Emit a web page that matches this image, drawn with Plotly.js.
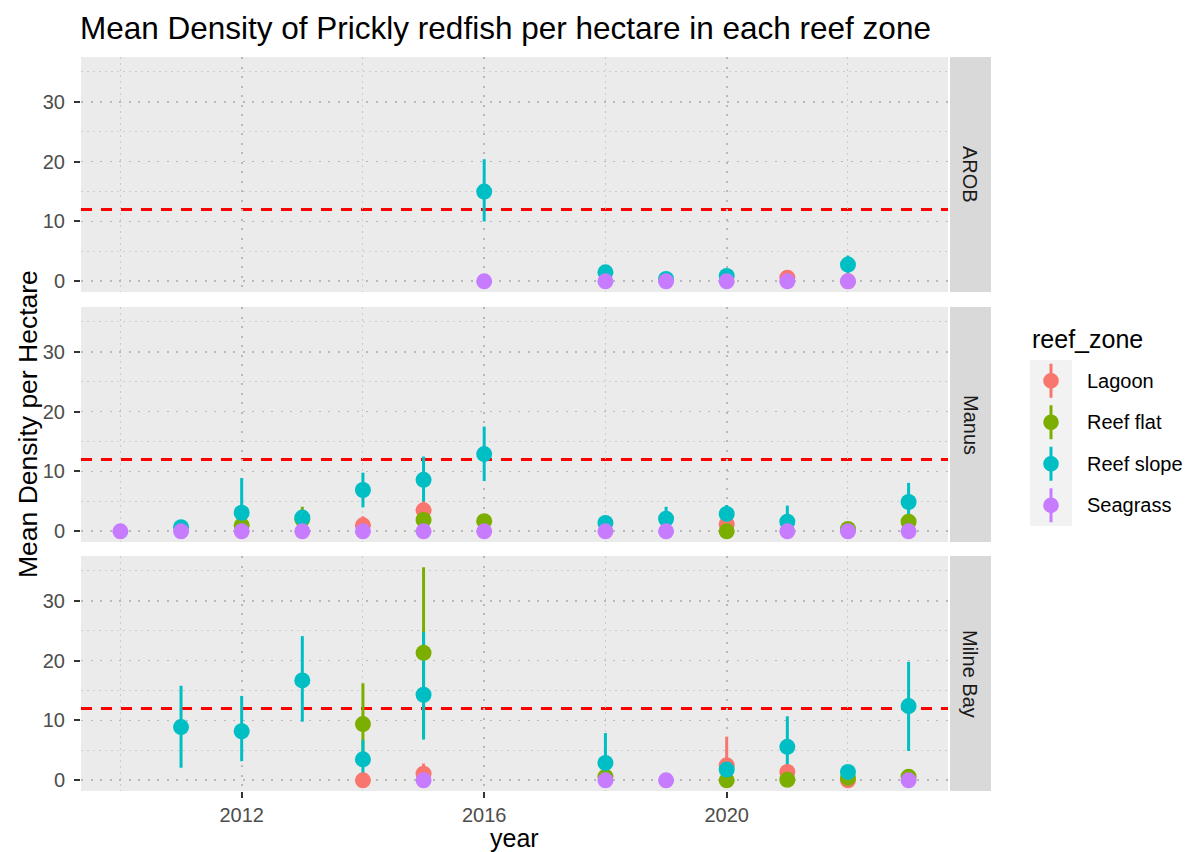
<!DOCTYPE html>
<html>
<head>
<meta charset="utf-8">
<script src="https://cdn.plot.ly/plotly-3.0.1.min.js"></script>
<style>html,body{margin:0;padding:0;background:#fff;}#chart{width:1189px;height:852px;}</style>
</head>
<body>
<div id="chart"></div>
<script>
// ---------------- DATA ----------------
const regions = ['AROB', 'Manus', 'Milne Bay'];
const zones = ['Lagoon', 'Reef flat', 'Reef slope', 'Seagrass'];
const thresholdLine = 12;

// AROB
const arob_lagoon_year = [2021, 2022];
const arob_lagoon_mean = [0.6, 0];
const arob_lagoon_lo   = [0.3, 0];
const arob_lagoon_hi   = [0.9, 0];
const arob_flat_year = [];
const arob_flat_mean = [];
const arob_flat_lo   = [];
const arob_flat_hi   = [];
const arob_slope_year = [2016, 2018, 2019, 2020, 2022];
const arob_slope_mean = [15.0, 1.5, 0.4, 0.9, 2.8];
const arob_slope_lo   = [10.0, 0.9, 0.1, 0.4, 1.3];
const arob_slope_hi   = [20.4, 2.1, 0.7, 1.4, 4.3];
const arob_seagrass_year = [2016, 2018, 2019, 2020, 2021, 2022];
const arob_seagrass_mean = [0, 0, 0, 0, 0, 0];
const arob_seagrass_lo   = [0, 0, 0, 0, 0, 0];
const arob_seagrass_hi   = [0, 0, 0, 0, 0, 0];

// Manus
const manus_lagoon_year = [2014, 2015, 2020, 2022];
const manus_lagoon_mean = [1.0, 3.5, 1.2, 0.2];
const manus_lagoon_lo   = [0, 1.7, 0.4, 0];
const manus_lagoon_hi   = [2.5, 5.3, 2.0, 0.4];
const manus_flat_year = [2012, 2013, 2015, 2016, 2020, 2022, 2023];
const manus_flat_mean = [1.0, 2.0, 1.9, 1.7, 0, 0.4, 1.6];
const manus_flat_lo   = [0.2, 0, 0.6, 0.8, 0, 0.1, 0.6];
const manus_flat_hi   = [1.8, 4.1, 3.2, 2.6, 0, 0.7, 2.6];
const manus_slope_year = [2011, 2012, 2013, 2014, 2015, 2016, 2018, 2019, 2020, 2021, 2023];
const manus_slope_mean = [0.7, 3.1, 2.3, 6.9, 8.6, 12.9, 1.4, 2.1, 2.9, 1.6, 4.9];
const manus_slope_lo   = [0.3, 0.2, 1.4, 4.0, 5.0, 8.4, 0.8, 0.6, 1.4, 0.1, 1.7];
const manus_slope_hi   = [1.1, 8.9, 3.2, 9.8, 12.5, 17.5, 2.0, 4.1, 4.4, 4.3, 8.1];
const manus_seagrass_year = [2010, 2011, 2012, 2013, 2014, 2015, 2016, 2018, 2019, 2021, 2022, 2023];
const manus_seagrass_mean = [0, 0, 0, 0, 0, 0, 0, 0, 0, 0, 0, 0];
const manus_seagrass_lo   = [0, 0, 0, 0, 0, 0, 0, 0, 0, 0, 0, 0];
const manus_seagrass_hi   = [0, 0, 0, 0, 0, 0, 0, 0, 0, 0, 0, 0];

// Milne Bay
const milne_lagoon_year = [2014, 2015, 2020, 2021, 2022];
const milne_lagoon_mean = [0, 1.1, 2.5, 1.4, 0];
const milne_lagoon_lo   = [0, 0, 0, 0.4, 0];
const milne_lagoon_hi   = [0, 2.8, 7.3, 2.4, 0];
const milne_flat_year = [2014, 2015, 2018, 2020, 2021, 2022, 2023];
const milne_flat_mean = [9.4, 21.3, 0.6, 0, 0.1, 0.4, 0.6];
const milne_flat_lo   = [2.6, 7.0, 0.2, 0, 0, 0.1, 0.2];
const milne_flat_hi   = [16.2, 35.6, 1.0, 0, 0.2, 0.7, 1.0];
const milne_slope_year = [2011, 2012, 2013, 2014, 2015, 2018, 2020, 2021, 2022, 2023];
const milne_slope_mean = [8.9, 8.2, 16.7, 3.5, 14.3, 2.9, 1.8, 5.6, 1.4, 12.4];
const milne_slope_lo   = [2.1, 3.2, 9.8, 1.1, 6.8, 0, 1.2, 0.5, 0.9, 4.9];
const milne_slope_hi   = [15.8, 14.1, 24.1, 6.7, 24.8, 7.9, 2.4, 10.7, 1.9, 19.8];
const milne_seagrass_year = [2015, 2018, 2019, 2023];
const milne_seagrass_mean = [0, 0, 0, 0];
const milne_seagrass_lo   = [0, 0, 0, 0];
const milne_seagrass_hi   = [0, 0, 0, 0];

// ---------------- STYLE ----------------
const zoneColors = ['#F8766D', '#7CAE00', '#00BFC4', '#C77CFF'];
const FONT = 'Liberation Sans, Arial, Helvetica, sans-serif';

const seriesByRegion = [
  [[arob_lagoon_year, arob_lagoon_mean, arob_lagoon_lo, arob_lagoon_hi],
   [arob_flat_year, arob_flat_mean, arob_flat_lo, arob_flat_hi],
   [arob_slope_year, arob_slope_mean, arob_slope_lo, arob_slope_hi],
   [arob_seagrass_year, arob_seagrass_mean, arob_seagrass_lo, arob_seagrass_hi]],
  [[manus_lagoon_year, manus_lagoon_mean, manus_lagoon_lo, manus_lagoon_hi],
   [manus_flat_year, manus_flat_mean, manus_flat_lo, manus_flat_hi],
   [manus_slope_year, manus_slope_mean, manus_slope_lo, manus_slope_hi],
   [manus_seagrass_year, manus_seagrass_mean, manus_seagrass_lo, manus_seagrass_hi]],
  [[milne_lagoon_year, milne_lagoon_mean, milne_lagoon_lo, milne_lagoon_hi],
   [milne_flat_year, milne_flat_mean, milne_flat_lo, milne_flat_hi],
   [milne_slope_year, milne_slope_mean, milne_slope_lo, milne_slope_hi],
   [milne_seagrass_year, milne_seagrass_mean, milne_seagrass_lo, milne_seagrass_hi]]
];

const yAxisIds = ['y', 'y2', 'y3'];
const traces = [];
regions.forEach((reg, r) => {
  const series = seriesByRegion[r];
  // ranges first (ggplot pointrange draws all lines before points)
  series.forEach((s, z) => {
    const [yr, m, lo, hi] = s;
    traces.push({
      type: 'scatter', mode: 'markers', x: yr, y: m, xaxis: 'x', yaxis: yAxisIds[r],
      marker: {size: 1, color: 'rgba(0,0,0,0)'},
      error_y: {type: 'data', symmetric: false,
        array: hi.map((h, i) => h - m[i]), arrayminus: lo.map((l, i) => m[i] - l),
        color: zoneColors[z], thickness: 3, width: 0},
      showlegend: false, hoverinfo: 'skip', name: zones[z]
    });
  });
  series.forEach((s, z) => {
    const [yr, m] = s;
    traces.push({
      type: 'scatter', mode: 'markers', x: yr, y: m, xaxis: 'x', yaxis: yAxisIds[r],
      marker: {size: 16, color: zoneColors[z], line: {width: 0}},
      showlegend: false, name: zones[z]
    });
  });
});

// ---------------- LAYOUT ----------------
const W = 1189, H = 852;
const L = 81, R = 948, T = 57, B = 791;
const px = x => (x - L) / (R - L);
const py = y => (B - y) / (B - T);
const panelPx = [[57, 292], [307, 542], [556, 791]];

const yRange = [-1.785, 37.485];
const gridMajor = {color: '#B8B8B8', width: 1.7, dash: '2px,7.5px'};
const gridMinor = {color: '#CCCCCC', width: 1, dash: '1.5px,4.5px'};
const TICK_SIZE = 20;

function yAxisDef(i) {
  const [top, bot] = panelPx[i];
  return {
    domain: [py(bot), py(top)], anchor: 'x', range: yRange,
    tickmode: 'linear', tick0: 0, dtick: 10,
    ticks: 'outside', ticklen: 6, tickwidth: 2, tickcolor: '#333333',
    ticklabelstandoff: 5,
    tickfont: {size: TICK_SIZE, color: '#4D4D4D', family: FONT},
    showgrid: true, gridcolor: gridMajor.color, gridwidth: gridMajor.width, griddash: gridMajor.dash,
    minor: {tick0: 0, dtick: 5, showgrid: true, gridcolor: gridMinor.color, gridwidth: gridMinor.width, griddash: gridMinor.dash, ticks: ''},
    zeroline: false, showline: false, fixedrange: true
  };
}

const shapes = [];
const annotations = [];
regions.forEach((reg, r) => {
  shapes.push({type: 'line', xref: 'x domain', x0: 0, x1: 1, yref: yAxisIds[r], y0: thresholdLine, y1: thresholdLine,
    line: {color: '#FF0000', width: 2.8, dash: '11px,9px'}, layer: 'below'});
  const [top, bot] = panelPx[r];
  shapes.push({type: 'rect', xref: 'paper', yref: 'paper', x0: px(950), x1: px(991), y0: py(bot), y1: py(top),
    fillcolor: '#D9D9D9', line: {width: 0}, layer: 'above'});
  annotations.push({xref: 'paper', yref: 'paper', x: px(970.5), y: py((top + bot) / 2), text: reg,
    textangle: 90, showarrow: false, font: {size: 20, color: '#1A1A1A', family: FONT}, xanchor: 'center', yanchor: 'middle'});
});

// axis titles
annotations.push({xref: 'paper', yref: 'paper', x: 0.5, y: py(838), text: 'year', showarrow: false,
  font: {size: 25, color: '#000000', family: FONT}, xanchor: 'center', yanchor: 'middle'});
annotations.push({xref: 'paper', yref: 'paper', x: px(28), y: py(424), text: 'Mean Density per Hectare', showarrow: false,
  textangle: -90, font: {size: 26.5, color: '#000000', family: FONT}, xanchor: 'center', yanchor: 'middle'});

// legend (ggplot-style keys)
annotations.push({xref: 'paper', yref: 'paper', x: px(1030), y: py(339), text: 'reef_zone', showarrow: false,
  font: {size: 25, color: '#000000', family: FONT}, xanchor: 'left', yanchor: 'middle'});
const keyTop = 360, keyH = 41.5, keyL = 1030, keyR = 1072;
shapes.push({type: 'rect', xref: 'paper', yref: 'paper', x0: px(keyL), x1: px(keyR), y0: py(keyTop + keyH * zones.length), y1: py(keyTop),
  fillcolor: '#F2F2F2', line: {width: 0}, layer: 'above'});
zones.forEach((z, i) => {
  const cy = keyTop + keyH * (i + 0.5);
  const cx = (keyL + keyR) / 2;
  shapes.push({type: 'line', xref: 'paper', yref: 'paper', xsizemode: 'pixel', ysizemode: 'pixel',
    xanchor: px(cx), yanchor: py(cy), x0: 0, x1: 0, y0: -17, y1: 17,
    line: {color: zoneColors[i], width: 3}, layer: 'above'});
  shapes.push({type: 'circle', xref: 'paper', yref: 'paper', xsizemode: 'pixel', ysizemode: 'pixel',
    xanchor: px(cx), yanchor: py(cy), x0: -7.8, x1: 7.8, y0: -7.8, y1: 7.8,
    fillcolor: zoneColors[i], line: {width: 0}, layer: 'above'});
  annotations.push({xref: 'paper', yref: 'paper', x: px(1085), y: py(cy), text: z, showarrow: false,
    font: {size: 20, color: '#000000', family: FONT}, xanchor: 'left', yanchor: 'middle'});
});

const layout = {
  width: W, height: H,
  margin: {l: L, r: W - R, t: T, b: H - B, pad: 0},
  paper_bgcolor: '#FFFFFF', plot_bgcolor: '#EBEBEB',
  font: {family: FONT, color: '#000000'},
  title: {text: 'Mean Density of Prickly redfish per hectare in each reef zone',
    font: {size: 31.5, color: '#000000', family: FONT},
    xref: 'container', yref: 'container', x: 80 / W, xanchor: 'left', y: 1 - 28 / H, yanchor: 'middle'},
  showlegend: false,
  xaxis: {
    anchor: 'y3', range: [2009.35, 2023.65],
    tickmode: 'linear', tick0: 2012, dtick: 4,
    ticks: 'outside', ticklen: 6, tickwidth: 2, tickcolor: '#333333',
    tickfont: {size: TICK_SIZE, color: '#4D4D4D', family: FONT},
    showgrid: true, gridcolor: gridMajor.color, gridwidth: gridMajor.width, griddash: gridMajor.dash,
    minor: {tick0: 2010, dtick: 2, showgrid: true, gridcolor: gridMinor.color, gridwidth: gridMinor.width, griddash: gridMinor.dash, ticks: ''},
    zeroline: false, showline: false, fixedrange: true
  },
  yaxis: yAxisDef(0),
  yaxis2: yAxisDef(1),
  yaxis3: yAxisDef(2),
  shapes: shapes,
  annotations: annotations
};

Plotly.newPlot('chart', traces, layout, {staticPlot: true, displayModeBar: false});
</script>
</body>
</html>
